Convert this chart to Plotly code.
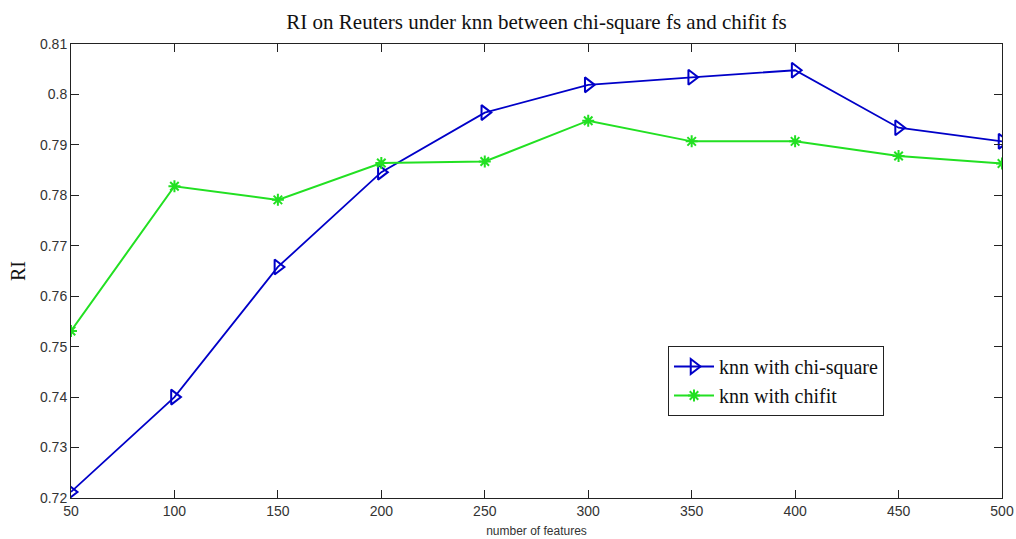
import plotly.graph_objects as go

features = [50, 100, 150, 200, 250, 300, 350, 400, 450, 500]
ri_chi_square = [0.7212, 0.7400, 0.7658, 0.7846, 0.7964, 0.8019, 0.8034, 0.8048, 0.7934, 0.7907]
ri_chifit = [0.7531, 0.7818, 0.7791, 0.7864, 0.7867, 0.7948, 0.7907, 0.7907, 0.7878, 0.7863]

x_ticks = [50, 100, 150, 200, 250, 300, 350, 400, 450, 500]
y_ticks = [0.72, 0.73, 0.74, 0.75, 0.76, 0.77, 0.78, 0.79, 0.8, 0.81]
y_tick_text = ["0.72", "0.73", "0.74", "0.75", "0.76", "0.77", "0.78", "0.79", "0.8", "0.81"]

fig = go.Figure()
fig.add_trace(go.Scatter(
    x=features, y=ri_chi_square, mode="lines+markers", name="knn with chi-square",
    line=dict(color="#0000c8", width=1.8),
    marker=dict(symbol="triangle-right-open", size=13, color="#0000c8", line=dict(width=2, color="#0000c8")),
))
fig.add_trace(go.Scatter(
    x=features, y=ri_chifit, mode="lines+markers", name="knn with chifit",
    line=dict(color="#22e022", width=2),
    marker=dict(symbol="asterisk-open", size=10, color="#22e022", line=dict(width=2, color="#22e022")),
))

fig.update_layout(
    width=1016, height=539,
    margin=dict(l=71, r=14, t=44, b=41),
    paper_bgcolor="white", plot_bgcolor="white",
    title=dict(text="RI on Reuters under knn between chi-square fs and chifit fs",
               x=(71 + 1002) / 2 / 1016, xanchor="center", y=1 - 22 / 539, yanchor="middle",
               font=dict(family="Liberation Serif", size=21, color="#111")),
    xaxis=dict(range=[50, 500], tickvals=x_ticks, ticks="inside", ticklen=8, tickcolor="#222",
               showline=True, linecolor="#222", linewidth=1, mirror="ticks", showgrid=False, zeroline=False,
               automargin=False,
               tickfont=dict(family="Liberation Sans", size=14, color="#333"),
               title=dict(text="number of features", font=dict(family="Liberation Sans", size=12, color="#333"),
                          standoff=8)),
    yaxis=dict(range=[0.72, 0.81], tickvals=y_ticks, ticktext=y_tick_text, ticks="inside", ticklen=8, tickcolor="#222",
               showline=True, linecolor="#222", linewidth=1, mirror="ticks", showgrid=False, zeroline=False,
               automargin=False,
               tickfont=dict(family="Liberation Sans", size=14, color="#333"),
               title=dict(text="RI", font=dict(family="Liberation Serif", size=20, color="#111"), standoff=8)),
    legend=dict(x=(668 - 71) / 931, y=(498 - 346) / 454, xanchor="left", yanchor="top",
                bgcolor="white", bordercolor="#222", borderwidth=1,
                font=dict(family="Liberation Serif", size=20, color="#111"),
                itemwidth=40, tracegroupgap=0),
    showlegend=True,
)

fig.write_html("out.html")
